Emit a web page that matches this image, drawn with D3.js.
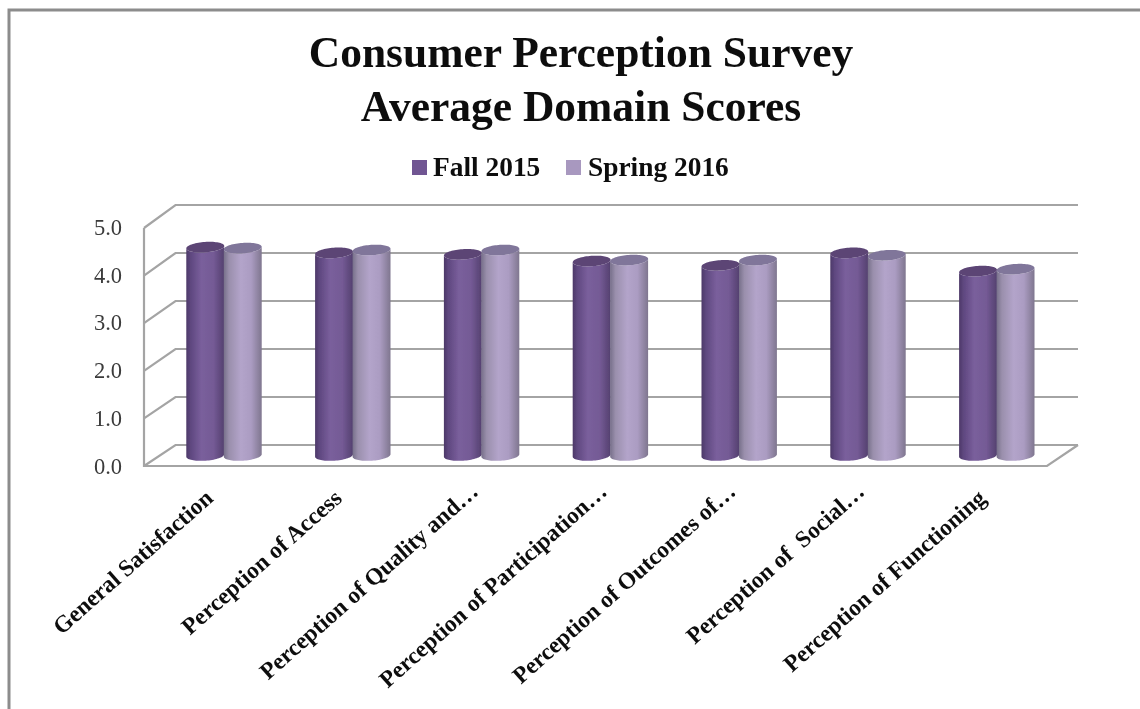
<!DOCTYPE html>
<html><head><meta charset="utf-8">
<script src="https://cdn.jsdelivr.net/npm/d3@7/dist/d3.min.js"></script>
<style>html,body{margin:0;padding:0;background:#fff}svg{display:block}text{font-family:"Liberation Serif",serif;fill:#111}</style>
</head><body><svg id="c" width="1140" height="709"></svg>
<script>
const categories = ["General Satisfaction","Perception of Access","Perception of Quality and…","Perception of Participation…","Perception of Outcomes of…","Perception of  Social…","Perception of Functioning"];
const seriesNames = ["Fall 2015","Spring 2016"];
const fall2015 = [4.35,4.23,4.20,4.06,3.97,4.23,3.85];
const spring2016 = [4.33,4.29,4.29,4.08,4.08,4.18,3.89];
const yTicks = [0,1,2,3,4,5];
const titleLines = ["Consumer Perception Survey","Average Domain Scores"];

const svg = d3.select("#c");
const defs = svg.append("defs");
function grad(id, stops){
  const g = defs.append("linearGradient").attr("id",id).attr("x1",0).attr("x2",1).attr("y1",0).attr("y2",0);
  stops.forEach(([o,c])=>g.append("stop").attr("offset",o).attr("stop-color",c));
}
grad("gD",[[0,"#4c3868"],[.12,"#5f4880"],[.4,"#7a5f9c"],[.72,"#745a95"],[1,"#54406f"]]);
grad("gL",[[0,"#77708a"],[.14,"#9a8fac"],[.45,"#b3a4ca"],[.72,"#ab9cc2"],[1,"#7f768f"]]);
defs.append("filter").attr("id","soft").append("feGaussianBlur").attr("stdDeviation",0.45);
defs.append("filter").attr("id","softer").append("feGaussianBlur").attr("stdDeviation",0.35);

const gridColor = "#a4a4a4";
// frame
const frame = svg.append("g").attr("filter","url(#softer)");
frame.append("path").attr("d",d3.line()([[9,709],[9,10],[1140,10]])).attr("fill","none").attr("stroke","#8c8c8c").attr("stroke-width",3);

// scales
const yBack = d3.scaleLinear().domain([0,5]).range([445,205]);
const yFront = d3.scaleLinear().domain([0,5]).range([466,228]);
const yBar = d3.scaleLinear().domain([0,5]).range([455.5,216]);
const yLabel = d3.scaleLinear().domain([0,5]).range([466,227]);
const x0 = d3.scaleBand().domain(categories).range([159.6,1061.2]);
const xs = d3.scaleBand().domain(seriesNames).range([-37.5,37.5]);
const xFront = 144, xBack = 175.5, xBackEnd = 1078, xFrontEnd = 1047;

// walls
const wall = svg.append("g").attr("fill","none").attr("stroke",gridColor).attr("stroke-width",2.2).attr("filter","url(#softer)");
const line = d3.line();
yTicks.forEach(t=>{
  wall.append("path").attr("d",line([[xFront,yFront(t)],[xBack,yBack(t)],[xBackEnd,yBack(t)]]));
});
wall.append("path").attr("d",line([[xFront,yFront(5)],[xFront,yFront(0)],[xFrontEnd,yFront(0)],[xBackEnd,yBack(0)]]));

// axis labels
const ax = svg.append("g").attr("transform","translate(122,0)").attr("filter","url(#softer)")
  .call(d3.axisLeft(yLabel).tickValues(yTicks).tickFormat(d3.format(".1f")).tickSize(0).tickPadding(0));
ax.select(".domain").remove();
ax.selectAll("text").style("font-family",'"Liberation Serif",serif').style("font-size","22.5px").style("fill","#3a3a3a");

// bars
const rx = 19, ry = 5.2, tilt = -4*Math.PI/180;
const ang = d3.range(0,37).map(k=>k*Math.PI/36);
function rimPt(cx,cy,a){
  const px = rx*Math.cos(a), py = ry*Math.sin(a);
  return [cx+px*Math.cos(tilt)-py*Math.sin(tilt), cy+px*Math.sin(tilt)+py*Math.cos(tilt)];
}
function cyl(g, cx, v, fill, top){
  const yt = yBar(v), yb = yBar(0);
  const bottom = ang.map(a=>rimPt(cx,yb,a));
  const upper = ang.map(a=>rimPt(cx,yt,Math.PI-a));
  g.append("path").attr("fill",fill).attr("d",line(bottom.concat(upper))+"Z");
  g.append("path").attr("fill",top).attr("d",line(d3.range(0,72).map(k=>rimPt(cx,yt,k*Math.PI/36)))+"Z");
}
const bars = svg.append("g").attr("filter","url(#soft)");
categories.forEach((c,i)=>{
  const cx = x0(c)+x0.bandwidth()/2;
  cyl(bars, cx+xs(seriesNames[0])+xs.bandwidth()/2, fall2015[i], "url(#gD)", "#5b4475");
  cyl(bars, cx+xs(seriesNames[1])+xs.bandwidth()/2, spring2016[i], "url(#gL)", "#80769a");
});

// category labels
const labs = svg.append("g").attr("filter","url(#softer)");
categories.forEach(c=>{
  const cx = x0(c)+x0.bandwidth()/2;
  labs.append("text").attr("text-anchor","end").attr("font-size",23.5).attr("font-weight","bold")
    .style("white-space","pre")
    .attr("x",c.endsWith("…")?10:0)
    .attr("transform",`translate(${cx-15},${494}) rotate(-41.5)`).attr("dy","0.35em").text(c);
});

// title
const tg = svg.append("g").attr("filter","url(#softer)");
tg.selectAll("text").data(titleLines).join("text").attr("x",581).attr("y",(d,i)=>67+i*54)
  .attr("text-anchor","middle").attr("font-size",43.5).attr("font-weight","bold").text(d=>d);

// legend
const legendX = [[412,433],[566,588]], legendCol = ["#6f5592","#a898bf"];
const lg = svg.append("g").attr("filter","url(#softer)");
seriesNames.forEach((s,i)=>{
  lg.append("rect").attr("x",legendX[i][0]).attr("y",160).attr("width",15).attr("height",15).attr("fill",legendCol[i]);
  lg.append("text").attr("x",legendX[i][1]).attr("y",176).attr("font-size",27.4).attr("font-weight","bold").text(s);
});
</script></body></html>
